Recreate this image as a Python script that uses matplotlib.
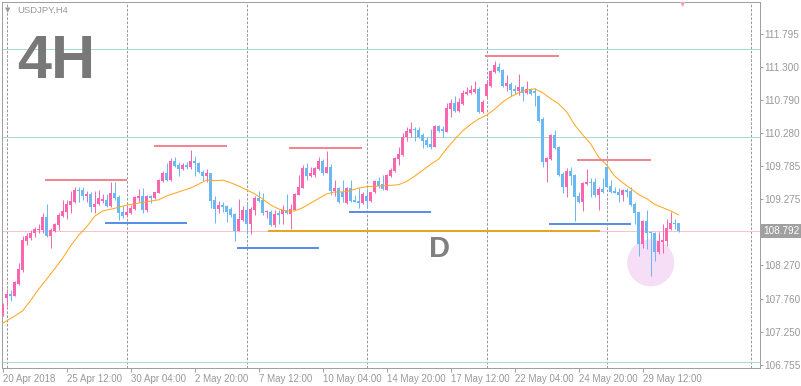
import matplotlib
matplotlib.use('Agg')
import matplotlib.pyplot as plt

plt.rcParams['font.family'] = ['Liberation Sans', 'DejaVu Sans']

# USDJPY H4 candles (bar 0 = 20 Apr 2018 20:00)
opens = [107.52, 107.77, 107.84, 107.81, 107.99, 108.20, 108.64, 108.69, 108.76, 108.81,
         108.81, 109.01, 108.72, 108.79, 108.89, 109.02, 109.08, 109.19, 109.24, 109.42,
         109.42, 109.33, 109.36, 109.16, 109.21, 109.25, 109.27, 109.18, 109.37, 109.31,
         109.08, 109.04, 109.07, 109.13, 109.30, 109.33, 109.11, 109.33, 109.30, 109.37,
         109.56, 109.68, 109.57, 109.86, 109.80, 109.74, 109.80, 109.77, 109.86, 109.83,
         109.69, 109.63, 109.68, 109.27, 109.13, 109.19, 109.18, 109.13, 109.05, 108.80,
         108.96, 109.11, 108.90, 109.11, 109.30, 109.27, 109.08, 109.08, 108.89, 109.07,
         109.05, 109.11, 109.05, 109.11, 109.34, 109.45, 109.75, 109.63, 109.65, 109.74,
         109.86, 109.68, 109.77, 109.40, 109.45, 109.39, 109.22, 109.45, 109.27, 109.25,
         109.22, 109.33, 109.25, 109.39, 109.56, 109.51, 109.42, 109.63, 109.71, 109.89,
         109.95, 110.23, 110.29, 110.35, 110.33, 110.26, 110.18, 110.12, 110.07, 110.39,
         110.35, 110.30, 110.65, 110.74, 110.62, 110.73, 110.88, 110.90, 110.91, 110.96,
         110.61, 110.85, 111.00, 111.22, 111.29, 111.25, 111.00, 111.03, 110.96, 110.93,
         110.99, 110.90, 110.96, 110.93, 110.85, 110.50, 109.85, 109.89, 110.26, 110.07,
         109.66, 109.46, 109.71, 109.65, 109.33, 109.24, 109.51, 109.54, 109.54, 109.34,
         109.43, 109.77, 109.48, 109.40, 109.39, 109.34, 109.42, 109.40, 109.21, 109.08,
         108.60, 108.95, 108.78, 108.76, 108.48, 108.63, 108.64, 108.83, 108.92, 108.92]
highs = [107.70, 107.91, 107.90, 108.03, 108.31, 108.72, 108.76, 108.81, 108.86, 108.90,
         109.07, 109.21, 108.84, 108.91, 109.07, 109.27, 109.27, 109.40, 109.46, 109.46,
         109.46, 109.40, 109.39, 109.40, 109.42, 109.36, 109.36, 109.54, 109.54, 109.34,
         109.18, 109.19, 109.19, 109.33, 109.43, 109.45, 109.34, 109.34, 109.39, 109.59,
         109.71, 109.83, 109.91, 109.92, 109.85, 109.83, 109.85, 110.03, 109.94, 109.85,
         109.72, 109.74, 109.68, 109.33, 109.25, 109.24, 109.19, 109.16, 109.07, 109.28,
         109.18, 109.21, 109.16, 109.33, 109.40, 109.37, 109.11, 109.11, 109.11, 109.11,
         109.19, 109.36, 109.21, 109.37, 109.65, 109.80, 109.83, 109.77, 109.77, 109.92,
         109.89, 110.01, 109.81, 109.57, 109.46, 109.57, 109.46, 109.57, 109.34, 109.45,
         109.39, 109.45, 109.39, 109.57, 109.62, 109.65, 109.66, 109.75, 109.92, 110.07,
         110.29, 110.38, 110.45, 110.38, 110.38, 110.29, 110.23, 110.35, 110.41, 110.41,
         110.39, 110.74, 110.80, 110.85, 110.82, 110.94, 110.99, 111.02, 111.08, 110.99,
         110.79, 111.09, 111.25, 111.38, 111.35, 111.26, 111.17, 111.06, 111.02, 111.19,
         111.00, 111.08, 110.97, 110.97, 110.87, 110.53, 109.92, 110.27, 110.33, 110.09,
         109.69, 109.75, 109.77, 109.66, 109.39, 109.54, 109.74, 109.60, 109.60, 109.46,
         109.60, 109.83, 109.57, 109.46, 109.45, 109.43, 109.45, 109.46, 109.24, 109.08,
         108.96, 109.11, 108.79, 108.78, 108.78, 108.90, 108.98, 109.08, 108.98, 108.92]
lows = [107.50, 107.65, 107.73, 107.80, 107.98, 108.17, 108.58, 108.66, 108.70, 108.76,
        108.76, 108.70, 108.54, 108.78, 108.81, 109.01, 108.98, 109.07, 109.22, 109.24,
        109.27, 109.24, 109.08, 109.07, 109.19, 109.22, 109.16, 109.16, 109.27, 108.96,
        108.99, 109.01, 109.05, 109.11, 109.24, 109.07, 109.08, 109.22, 109.28, 109.37,
        109.54, 109.56, 109.56, 109.77, 109.63, 109.72, 109.74, 109.74, 109.63, 109.68,
        109.56, 109.54, 109.14, 108.92, 109.07, 109.08, 108.93, 109.01, 108.64, 108.80,
        108.95, 108.75, 108.75, 109.04, 109.24, 109.04, 108.99, 108.87, 108.86, 108.90,
        108.90, 109.05, 108.83, 109.11, 109.34, 109.45, 109.57, 109.62, 109.62, 109.72,
        109.65, 109.68, 109.34, 109.33, 109.22, 109.24, 109.21, 109.24, 109.24, 109.15,
        109.21, 109.16, 109.24, 109.37, 109.45, 109.42, 109.42, 109.62, 109.69, 109.80,
        109.94, 110.17, 110.23, 110.17, 110.21, 110.06, 110.07, 110.04, 110.07, 110.30,
        110.23, 110.30, 110.53, 110.61, 110.61, 110.71, 110.87, 110.88, 110.90, 110.59,
        110.59, 110.84, 110.99, 111.20, 111.22, 110.99, 110.93, 110.85, 110.88, 110.87,
        110.78, 110.88, 110.87, 110.70, 110.46, 109.77, 109.54, 109.88, 110.04, 109.63,
        109.37, 109.31, 109.50, 108.95, 109.22, 109.10, 109.49, 109.31, 109.31, 109.11,
        109.37, 109.46, 109.37, 109.37, 109.24, 109.25, 109.31, 109.18, 108.90, 108.41,
        108.54, 108.52, 108.11, 108.34, 108.44, 108.46, 108.57, 108.81, 108.83, 108.78]
closes = [107.68, 107.84, 107.81, 108.02, 108.22, 108.66, 108.72, 108.76, 108.83, 108.83,
          109.01, 108.72, 108.81, 108.90, 109.04, 109.10, 109.21, 109.25, 109.42, 109.40,
          109.33, 109.36, 109.16, 109.21, 109.30, 109.28, 109.18, 109.37, 109.30, 109.07,
          109.02, 109.08, 109.15, 109.31, 109.33, 109.11, 109.33, 109.30, 109.39, 109.57,
          109.68, 109.57, 109.86, 109.79, 109.74, 109.80, 109.77, 109.86, 109.83, 109.69,
          109.63, 109.68, 109.25, 109.13, 109.19, 109.16, 109.08, 109.04, 108.80, 108.98,
          109.11, 108.90, 109.13, 109.30, 109.25, 109.07, 109.10, 108.89, 109.05, 109.04,
          109.11, 109.07, 109.13, 109.36, 109.46, 109.75, 109.63, 109.68, 109.75, 109.86,
          109.68, 109.77, 109.40, 109.45, 109.24, 109.31, 109.45, 109.25, 109.24, 109.22,
          109.36, 109.25, 109.39, 109.56, 109.48, 109.43, 109.65, 109.72, 109.91, 109.97,
          110.23, 110.32, 110.35, 110.33, 110.23, 110.17, 110.10, 110.07, 110.39, 110.32,
          110.32, 110.67, 110.74, 110.62, 110.76, 110.90, 110.91, 110.94, 110.96, 110.61,
          110.76, 111.03, 111.23, 111.32, 111.23, 111.00, 111.05, 110.94, 110.93, 110.99,
          110.90, 110.96, 110.88, 110.90, 110.47, 109.85, 109.91, 110.26, 110.06, 109.65,
          109.46, 109.71, 109.63, 109.31, 109.24, 109.53, 109.54, 109.53, 109.34, 109.43,
          109.39, 109.46, 109.39, 109.37, 109.34, 109.42, 109.39, 109.19, 109.07, 108.60,
          108.95, 108.76, 108.76, 108.48, 108.64, 108.66, 108.84, 108.92, 108.90, 108.79]

# moving average (orange), sampled at these bars
ma_bars = [0, 3, 5, 7, 9, 12, 15, 17, 19, 21, 23, 25, 28, 31, 35, 39, 41, 44, 47, 49,
           51, 53, 55, 57, 59, 61, 63, 65, 67, 69, 71, 73, 75, 77, 79, 81, 83, 85, 87, 89,
           91, 94, 97, 99, 101, 103, 105, 107, 109, 111, 113, 115, 117, 119, 121, 123, 125,
           127, 129, 131, 133, 135, 137, 139, 141, 143, 145, 147, 149, 151, 153, 155, 157,
           159, 161, 163, 165, 167, 169]
ma_vals = [107.39, 107.50, 107.58, 107.74, 107.91, 108.14, 108.38, 108.57, 108.73, 108.86,
           109.02, 109.10, 109.14, 109.19, 109.23, 109.27, 109.33, 109.39, 109.45, 109.51,
           109.57, 109.56, 109.57, 109.53, 109.48, 109.42, 109.36, 109.28, 109.19, 109.13,
           109.10, 109.10, 109.15, 109.22, 109.29, 109.36, 109.39, 109.39, 109.41, 109.45,
           109.47, 109.48, 109.49, 109.50, 109.55, 109.63, 109.72, 109.81, 109.89, 110.05,
           110.19, 110.32, 110.42, 110.50, 110.56, 110.65, 110.76, 110.84, 110.90, 110.94,
           110.96, 110.90, 110.81, 110.73, 110.61, 110.41, 110.26, 110.12, 109.92, 109.80,
           109.63, 109.53, 109.44, 109.35, 109.29, 109.20, 109.15, 109.10, 109.04]

# drawn levels: (start bar, end bar, price)
red_levels = [(10.6, 31.1, 109.57), (37.7, 56.0, 110.09), (71.6, 89.9, 110.06),
              (120.6, 139.1, 111.46), (143.6, 162.0, 109.88)]
blue_levels = [(25.6, 46.0, 108.92), (58.5, 79.1, 108.54), (86.6, 107.1, 109.09),
               (136.6, 157.0, 108.90)]
gold_level = (66.2, 149.3, 108.80)
cyan_levels = [111.567, 110.226, 106.80]
bid = 108.792

week_lines = [1, 31, 61, 91, 121, 151, 187]
y_ticks = [111.795, 111.300, 110.790, 110.280, 109.785, 109.275,
           108.270, 107.760, 107.250, 106.755]
x_tick_bars = [0, 16, 32, 48, 64, 80, 96, 112, 128, 144, 160]
x_tick_labels = ['20 Apr 2018', '25 Apr 12:00', '30 Apr 04:00', '2 May 20:00',
                 '7 May 12:00', '10 May 04:00', '14 May 20:00', '17 May 12:00',
                 '22 May 04:00', '24 May 20:00', '29 May 12:00']

bull = '#f866b0'
bear = '#6bb8f2'
grey = '#a0a0a0'
px = 0.72  # one pixel in points

W, H = 801, 386
fig = plt.figure(figsize=(W / 100, H / 100), dpi=100)
ax = fig.add_axes([1.5 / W, (H - 367.5) / H, 758 / W, 366 / H])
ax.set_xlim(-0.3, 189.2)
ax.set_ylim(106.716, 112.290)

for s in ax.spines.values():
    s.set_color(grey)
    s.set_linewidth(px)

# grid / separators
for b in week_lines:
    ax.axvline(b, color='#9a9a9a', lw=px, ls=(0, (2.6, 1.6)), zorder=1)
for lv in cyan_levels:
    ax.axhline(lv, color='#aad8d6', lw=px, zorder=1)
ax.axhline(bid, color='#ffc0cc', lw=px, zorder=1)

# highlight circle
ax.scatter([162], [108.31], s=1150, color='#f5def6', edgecolors='none', zorder=1.5)

# candles
for i in range(len(opens)):
    o, h, l, c = opens[i], highs[i], lows[i], closes[i]
    col = bull if c >= o else bear
    ax.vlines(i, l, h, color=col, lw=px, zorder=3)
    bot = min(o, c)
    hgt = max(abs(c - o), 0.016)
    ax.bar(i, hgt, width=0.75, bottom=bot, color=col, linewidth=0, zorder=3)

ax.plot(ma_bars, ma_vals, color='#ffa51a', lw=px, zorder=4)

for x0, x1, p in red_levels:
    ax.plot([x0, x1], [p, p], color='#f2858f', lw=2 * px, solid_capstyle='butt', zorder=5)
for x0, x1, p in blue_levels:
    ax.plot([x0, x1], [p, p], color='#5b8ee6', lw=2 * px, solid_capstyle='butt', zorder=5)
ax.plot([gold_level[0], gold_level[1]], [gold_level[2]] * 2, color='#e6a526',
        lw=2 * px, solid_capstyle='butt', zorder=5)

# small pink arrow at top edge
ax.scatter([170], [112.27], marker='v', s=40, color='#f7a0b8', edgecolors='none', zorder=6)

ax.text(106.6, 108.40, 'D', fontsize=21, fontweight='bold', color='#808080',
        ha='left', va='baseline', zorder=6)
fig.text(17 / W, 1 - 77.5 / H, '4H', fontsize=44, fontweight='bold', color='#787878',
         ha='left', va='baseline')
fig.text(17 / W, 1 - 13 / H, 'USDJPY,H4', fontsize=6.8, color='#999999', ha='left', va='baseline')
fig.text(5 / W, 1 - 12 / H, '\u25bc', fontsize=5, color='#999999', ha='left', va='baseline',
         family='DejaVu Sans')

# axes ticks
ax.yaxis.tick_right()
ax.set_yticks(y_ticks)
ax.set_yticklabels(['%.3f' % v for v in y_ticks])
ax.tick_params(axis='y', direction='out', length=2.2, width=px, colors=grey,
               labelcolor='#999999', labelsize=7.2, pad=1.2)
ax.set_xticks(x_tick_bars)
ax.set_xticklabels(x_tick_labels, ha='left')
ax.tick_params(axis='x', direction='out', length=3, width=px, colors=grey,
               labelcolor='#999999', labelsize=7.0, pad=1.5)

ax.annotate('%.3f' % bid, xy=(1, bid), xycoords=ax.get_yaxis_transform(),
            xytext=(2.5, 0), textcoords='offset points', ha='left', va='center',
            fontsize=7.2, color='white',
            bbox=dict(boxstyle='square,pad=0.18', fc=grey, ec='none'))

fig.savefig('out.png', dpi=100, facecolor='white')
